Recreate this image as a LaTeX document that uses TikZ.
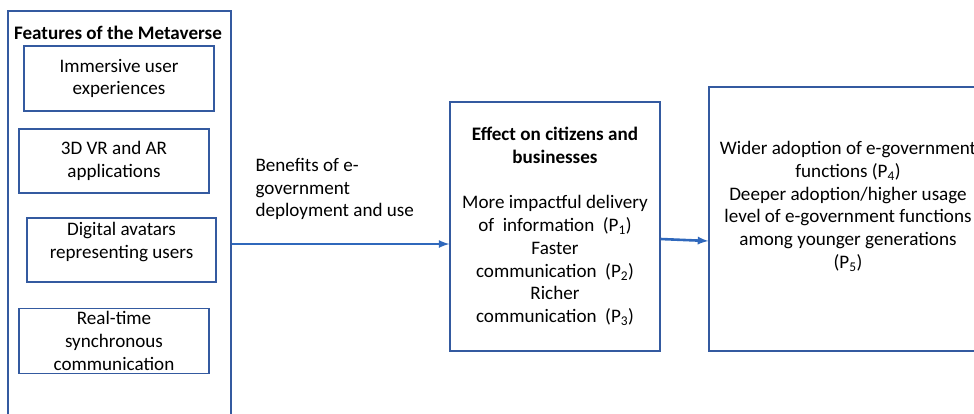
\documentclass[tikz,border=0pt]{standalone}
\usepackage{fontspec}
\setmainfont{Carlito}
\usetikzlibrary{positioning, arrows, shapes}

\definecolor{boxblue}{RGB}{52,90,160}
\definecolor{arrowblue}{RGB}{47,104,188}

\tikzset{
	featbox/.style={rectangle, draw=boxblue, line width=1.2pt, text centered, align=center, minimum width=190pt, minimum height=64pt, inner sep=3pt},
	bigbox/.style={rectangle, draw=boxblue, line width=1.2pt, align=center, inner sep=3pt},
	flow/.style={-latex, draw=arrowblue, line width=2.6pt}
}

\begin{document}
\begin{tikzpicture}[x=1pt, y=-1pt, font=\fontsize{19.1}{22.7}\selectfont]
		
		\useasboundingbox (0,0) rectangle (974,413);
		\clip (0,0) rectangle (974,413);
		
		%Riquadro delle caratteristiche del Metaverse
		\node (metaverse) at (119.5,228) [bigbox, minimum width=223pt, minimum height=434pt] {};
		
		\node (title) at (118,33) {\bfseries Features of the Metaverse};
		
		\node (immersive) at (119,78.5) [featbox, minimum height=65pt] {Immersive user\\experiences};
		
		\node (vrar) at (114,161) [featbox] {3D VR and AR\\applications};
		
		\node (avatars) at (121.5,250) [featbox, minimum width=189pt, text depth=19pt] {Digital avatars\\representing users};
		
		\node (realtime) at (114,341) [featbox] {Real-time\\synchronous\\communication};
		
		%Effetti e adozione
		\node (effect) at (555,226.5) [bigbox, minimum width=210pt, minimum height=249pt] 
		{\bfseries Effect on citizens and\\\bfseries businesses\\[22.7pt]
		More impactful delivery\\of~ information~ (P\textsubscript{1})\\Faster\\communication~ (P\textsubscript{2})\\Richer\\communication~ (P\textsubscript{3})};
		
		\node (adoption) at (848,219) [bigbox, minimum width=278pt, minimum height=264pt, text depth=28pt] 
		{Wider adoption of e-government\\functions (P\textsubscript{4})\\Deeper adoption/higher usage\\level of e-government functions\\among younger generations\\(P\textsubscript{5})};
		
		\node (benefits) at (252,189) [anchor=west, align=left] {Benefits of e-\\government\\deployment and use};
		
		\coordinate (benefitsLevel) at (0,244);
		\coordinate (effectOut) at (0,239);
		\coordinate (adoptionIn) at (0,241);
		
		\draw[flow] (metaverse.east |- benefitsLevel) -- (effect.west |- benefitsLevel);
		\draw[flow] (effect.east |- effectOut) -- (adoption.west |- adoptionIn);
		
		\end{tikzpicture}
\end{document}
